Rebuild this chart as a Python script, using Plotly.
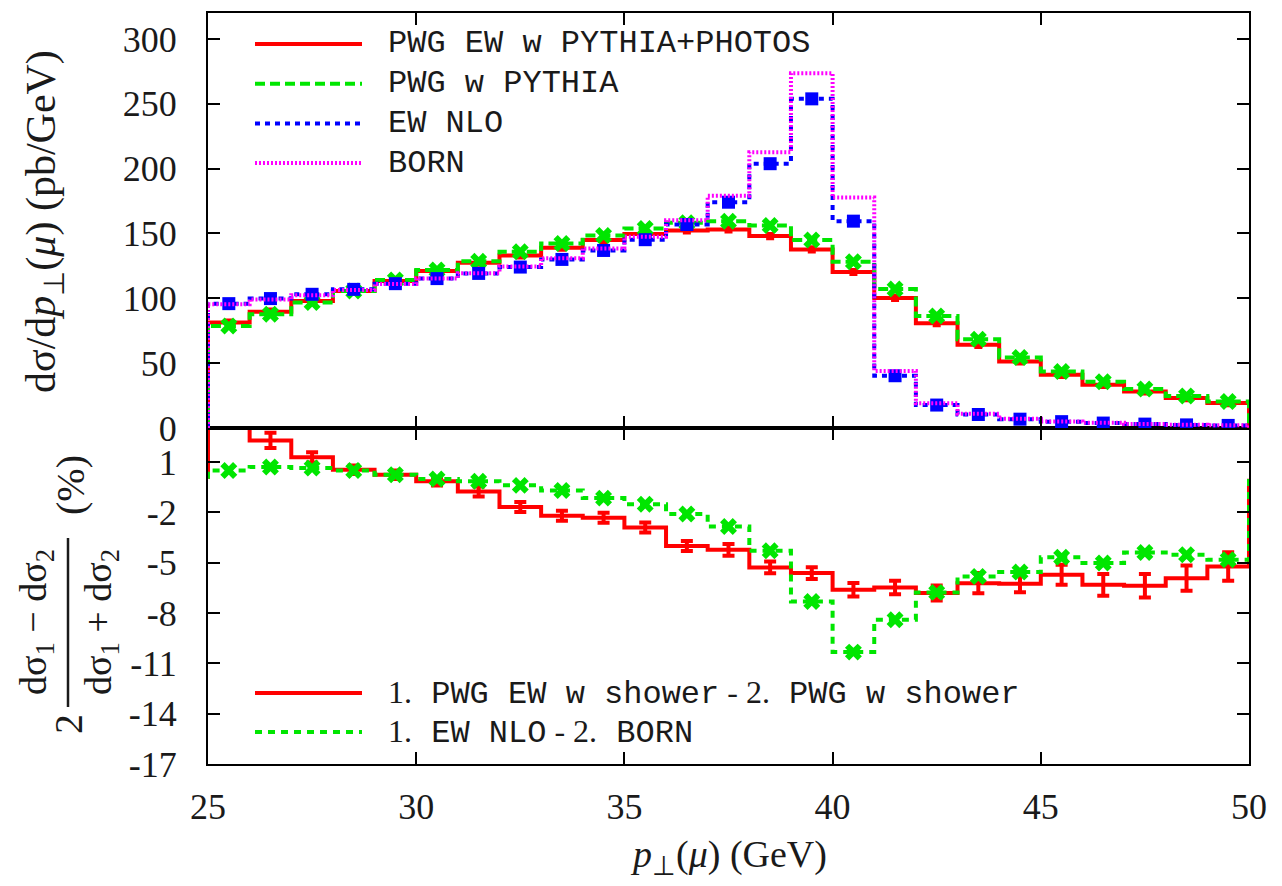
import plotly.graph_objects as go

# ---------------- data ----------------
edges = [25, 26, 27, 28, 29, 30, 31, 32, 33, 34, 35, 36, 37, 38, 39, 40,
         41, 42, 43, 44, 45, 46, 47, 48, 49, 50]
centers = [25.5, 26.5, 27.5, 28.5, 29.5, 30.5, 31.5, 32.5, 33.5, 34.5, 35.5,
           36.5, 37.5, 38.5, 39.5, 40.5, 41.5, 42.5, 43.5, 44.5, 45.5, 46.5,
           47.5, 48.5, 49.5]

pwg_ew_pythia_photos = [81.3, 89.7, 97.9, 105.6, 113.3, 121.0, 127.4, 133.1, 139.0,
                        144.9, 149.5, 152.3, 153.1, 148.0, 137.7, 120.3, 100.3, 80.8,
                        64.1, 51.3, 41.0, 33.3, 28.2, 23.1, 19.2]
pwg_pythia = [78.7, 87.7, 96.7, 105.6, 114.1, 121.8, 128.5, 135.9, 142.3, 148.5,
              153.8, 158.2, 159.5, 156.2, 144.9, 128.2, 107.1, 86.4, 68.5, 54.4,
              43.6, 35.6, 30.0, 24.6, 20.4]
ew_nlo = [95.9, 99.8, 103.1, 106.9, 111.3, 115.2, 119.2, 124.1, 130.0, 136.9,
          145.2, 156.9, 174.1, 203.8, 253.8, 159.5, 40.3, 17.7, 10.4, 6.8,
          4.9, 3.8, 3.0, 2.4, 2.0]
born = [95.4, 99.1, 102.4, 106.4, 111.0, 115.2, 119.4, 124.6, 130.9, 138.5,
        147.4, 160.2, 179.0, 212.6, 273.5, 177.8, 44.0, 19.0, 11.0, 7.2,
        5.1, 4.0, 3.1, 2.5, 2.1]

ratio_shower = [3.6, 2.29, 1.28, 0.54, 0.24, -0.15, -0.75, -1.68, -2.2, -2.32,
                -2.9, -4.0, -4.23, -5.28, -5.62, -6.61, -6.48, -6.81, -6.22, -6.26,
                -5.72, -6.32, -6.38, -5.92, -5.22]
ratio_shower_err = [0.4, 0.45, 0.3, 0.25, 0.25, 0.25, 0.3, 0.3, 0.3, 0.3,
                    0.3, 0.3, 0.35, 0.35, 0.35, 0.4, 0.4, 0.45, 0.6, 0.5,
                    0.6, 0.65, 0.7, 0.75, 0.85]
ratio_nlo_born = [0.5, 0.7, 0.64, 0.5, 0.24, -0.01, -0.15, -0.39, -0.69, -1.15,
                  -1.52, -2.1, -2.84, -4.29, -7.31, -10.33, -8.4, -6.77, -5.82, -5.56,
                  -4.67, -5.02, -4.39, -4.53, -4.82]

top_ticks = [0, 50, 100, 150, 200, 250, 300]
bot_ticks = [1, -2, -5, -8, -11, -14, -17]
bot_ticktext = ["1", "-2", "-5", "-8", "-11", "-14", "-17"]
x_ticks = [25, 30, 35, 40, 45, 50]

legend_top = ["PWG EW w PYTHIA+PHOTOS", "PWG w PYTHIA", "EW NLO", "BORN"]

# ---------------- styling ----------------
RED = "#ff0000"
GREEN = "#00e600"
BLUE = "#0000ff"
MAG = "#ff00ff"
SERIF = "Liberation Serif, Times New Roman, serif"
MONO = "Liberation Mono, Courier New, monospace"
TXT = "#1a1a1a"

W, H = 1282, 886
L, R, T, B = 208, 33, 13, 122
PW, PH = W - L - R, H - T - B
split = (764 - 428) / PH


def px(x, y):
    return (x - L) / PW, (H - B - y) / PH


def steps(edg, vals):
    xs, ys = [edg[0]], [0]
    for i, v in enumerate(vals):
        xs += [edg[i], edg[i + 1]]
        ys += [v, v]
    xs.append(edg[-1])
    ys.append(0)
    return xs, ys


fig = go.Figure()

styles = [
    (pwg_ew_pythia_photos, RED, "solid", None),
    (pwg_pythia, GREEN, "10px,5px", "x"),
    (ew_nlo, BLUE, "5px,5px", "square"),
    (born, MAG, "2px,2px", None),
]
for vals, col, dash, sym in styles:
    xs, ys = steps(edges, vals)
    fig.add_trace(go.Scatter(x=xs, y=ys, xaxis="x2", yaxis="y2", mode="lines",
                             line=dict(color=col, width=4, dash=dash),
                             showlegend=False, hoverinfo="skip"))
    if col == RED:
        fig.add_trace(go.Scatter(x=centers, y=vals, xaxis="x2", yaxis="y2", mode="markers",
                                 marker=dict(color=col, size=1),
                                 error_y=dict(type="constant", value=2.0, color=col,
                                              thickness=3, width=4),
                                 showlegend=False, hoverinfo="skip"))
    elif sym is not None:
        fig.add_trace(go.Scatter(x=centers, y=vals, xaxis="x2", yaxis="y2", mode="markers",
                                 marker=dict(color=col, size=13 if sym == "square" else 15,
                                             symbol=sym, line=dict(width=0)),
                                 showlegend=False, hoverinfo="skip"))

# lower panel
xs, ys = steps(edges, ratio_shower)
fig.add_trace(go.Scatter(x=xs, y=ys, xaxis="x", yaxis="y", mode="lines",
                         line=dict(color=RED, width=4), showlegend=False, hoverinfo="skip"))
fig.add_trace(go.Scatter(x=centers, y=ratio_shower, xaxis="x", yaxis="y", mode="markers",
                         marker=dict(color=RED, size=1),
                         error_y=dict(type="data", array=ratio_shower_err, color=RED,
                                      thickness=4, width=6),
                         showlegend=False, hoverinfo="skip"))
xs, ys = steps(edges, ratio_nlo_born)
fig.add_trace(go.Scatter(x=xs, y=ys, xaxis="x", yaxis="y", mode="lines",
                         line=dict(color=GREEN, width=4, dash="7px,6px"),
                         showlegend=False, hoverinfo="skip"))
fig.add_trace(go.Scatter(x=centers, y=ratio_nlo_born, xaxis="x", yaxis="y", mode="markers",
                         marker=dict(color=GREEN, size=15, symbol="x", line=dict(width=0)),
                         showlegend=False, hoverinfo="skip"))

axis_common = dict(showline=True, linewidth=2, linecolor="black", mirror="ticks",
                   ticks="inside", ticklen=12, tickwidth=1.5, tickcolor="black",
                   showgrid=False, zeroline=False,
                   tickfont=dict(family=SERIF, size=36, color=TXT))

fig.update_layout(
    width=W, height=H,
    margin=dict(l=L, r=R, t=T, b=B),
    paper_bgcolor="white", plot_bgcolor="white",
    showlegend=False,
    xaxis=dict(domain=[0, 1], anchor="y", range=[25, 50], tickvals=x_ticks,
               ticklabelstandoff=10, **axis_common),
    xaxis2=dict(domain=[0, 1], anchor="y2", range=[25, 50], tickvals=x_ticks,
                matches="x", showticklabels=False, **axis_common),
    yaxis=dict(domain=[0, split], anchor="x", range=[-17, 3.03], tickvals=bot_ticks,
               ticktext=bot_ticktext, ticklabelstandoff=22, **axis_common),
    yaxis2=dict(domain=[split, 1], anchor="x2", range=[0, 320], tickvals=top_ticks,
                ticklabelstandoff=22, **axis_common),
)

ann = []
shapes = []


def add_text(x, y, text, size, family=SERIF, angle=0, xanchor="center"):
    tx, ty = px(x, y)
    ann.append(dict(x=tx, y=ty, xref="paper", yref="paper", text=text, showarrow=False,
                    xanchor=xanchor, yanchor="middle", textangle=angle,
                    font=dict(family=family, size=size, color=TXT)))


# top legend
leg_styles = [(RED, "solid"), (GREEN, "10px,5px"), (BLUE, "5px,5px"), (MAG, "2px,2px")]
for i, (label, (col, dash)) in enumerate(zip(legend_top, leg_styles)):
    yy = 44 + i * 39.7
    x0, y0 = px(255, yy)
    x1, _ = px(362, yy)
    shapes.append(dict(type="line", xref="paper", yref="paper", x0=x0, x1=x1, y0=y0, y1=y0,
                       line=dict(color=col, width=4, dash=dash)))
    add_text(386, yy, label, 32, family=MONO, xanchor="left")

# lower legend
low_labels = [
    "<span style='font-family:Liberation Serif'>1.</span> PWG EW w shower"
    "<span style='font-family:Liberation Serif'> - 2.</span> PWG w shower",
    "<span style='font-family:Liberation Serif'>1.</span> EW NLO"
    "<span style='font-family:Liberation Serif'> - 2.</span> BORN",
]
for i, (label, (col, dash)) in enumerate(zip(low_labels, [(RED, "solid"), (GREEN, "7px,6px")])):
    yy = 693 + i * 39
    x0, y0 = px(255, yy)
    x1, _ = px(362, yy)
    shapes.append(dict(type="line", xref="paper", yref="paper", x0=x0, x1=x1, y0=y0, y1=y0,
                       line=dict(color=col, width=4, dash=dash)))
    add_text(386, yy, label, 32, family=MONO, xanchor="left")

# axis titles
add_text(728, 857, "<i>p</i><sub>⊥</sub>(<i>μ</i>) (GeV)", 38)
add_text(44, 222, "dσ/d<i>p</i><sub>⊥</sub>(<i>μ</i>) (pb/GeV)", 42, angle=-90)
# fraction title for lower panel
add_text(68, 724, "2", 40, angle=-90)
add_text(36, 622, "dσ<sub>1</sub> − dσ<sub>2</sub>", 38, angle=-90)
add_text(101, 622, "dσ<sub>1</sub> + dσ<sub>2</sub>", 38, angle=-90)
add_text(70, 485, "(%)", 40, angle=-90)
x0, y0 = px(68, 538)
_, y1 = px(68, 707)
shapes.append(dict(type="line", xref="paper", yref="paper", x0=x0, x1=x0, y0=y0, y1=y1,
                   line=dict(color=TXT, width=2.5)))

fig.update_layout(annotations=ann, shapes=shapes)
fig.write_html("out.html", config={"displayModeBar": False},
               post_script="document.body.style.margin='0px';")
